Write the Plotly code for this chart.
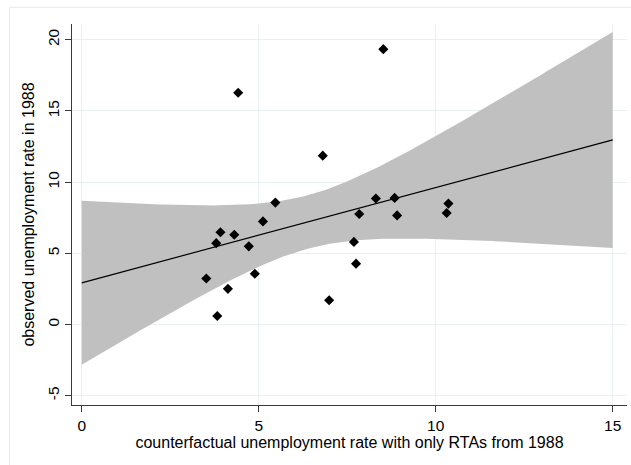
import numpy as np
import plotly.graph_objects as go

# counterfactual unemployment rate with only RTAs from 1988
x_cf = [8.52, 4.42, 6.81, 5.47, 8.31, 8.84, 10.36, 7.84, 8.91, 10.31, 5.12,
        3.92, 4.31, 3.80, 4.72, 7.69, 7.75, 3.52, 4.89, 4.13, 6.99, 3.83]
# observed unemployment rate in 1988
y_obs = [19.34, 16.28, 11.86, 8.56, 8.85, 8.89, 8.49, 7.76, 7.66, 7.83, 7.24,
         6.48, 6.30, 5.71, 5.49, 5.80, 4.27, 3.23, 3.56, 2.50, 1.70, 0.59]

x_ticks = [0, 5, 10, 15]
y_ticks = [-5, 0, 5, 10, 15, 20]
fit_range = [0, 15]

# linear fit with 95% CI of the prediction (as in Stata lfitci)
xa = np.array(x_cf)
ya = np.array(y_obs)
n = len(xa)
b, a = np.polyfit(xa, ya, 1)
resid = ya - (a + b * xa)
s = np.sqrt(np.sum(resid ** 2) / (n - 2))
sxx = np.sum((xa - xa.mean()) ** 2)
t_crit = 2.085963  # t(0.975, df=20)
xg = np.linspace(fit_range[0], fit_range[1], 200)
yhat = a + b * xg
se = s * np.sqrt(1.0 / n + (xg - xa.mean()) ** 2 / sxx)
lo = yhat - t_crit * se
hi = yhat + t_crit * se

fig = go.Figure()
fig.add_trace(go.Scatter(
    x=np.concatenate([xg, xg[::-1]]), y=np.concatenate([hi, lo[::-1]]),
    fill="toself", fillcolor="#c0c0c0", line=dict(width=0),
    mode="lines", hoverinfo="skip", showlegend=False))
fig.add_trace(go.Scatter(
    x=xg, y=yhat, mode="lines", line=dict(color="black", width=1.2),
    showlegend=False))
fig.add_trace(go.Scatter(
    x=x_cf, y=y_obs, mode="markers",
    marker=dict(symbol="diamond", size=7.8, color="black"),
    showlegend=False))

font = "Liberation Sans, Arial, sans-serif"
grid = "#e8f0f2"
axis_col = "#3a3a3a"

fig.update_layout(
    width=631, height=465,
    margin=dict(l=72, r=4, t=24, b=60),
    paper_bgcolor="white", plot_bgcolor="white",
    font=dict(family=font, color="black"),
    shapes=[dict(type="rect", xref="paper", yref="paper",
                 x0=(9.5 - 72) / 555, y0=1 + (24 - 7.3) / 381,
                 x1=1.2, y1=-0.3,
                 line=dict(color="#e3ecef", width=1), layer="below")],
)
fig.update_xaxes(
    automargin=False,
    range=[-0.274, 15.404], tickvals=x_ticks, ticktext=[str(v) for v in x_ticks],
    showgrid=True, gridcolor=grid, gridwidth=1, zeroline=False,
    showline=True, linecolor=axis_col, linewidth=1,
    ticks="outside", ticklen=6, tickcolor=axis_col, tickwidth=1,
    tickfont=dict(size=15.5, family=font, color="black"),
    title=dict(text="counterfactual unemployment rate with only RTAs from 1988",
               font=dict(size=16, family=font, color="black"), standoff=4),
)
fig.update_yaxes(
    automargin=False,
    range=[-5.66, 21.11], tickvals=y_ticks, ticktext=[str(v) for v in y_ticks],
    showgrid=True, gridcolor=grid, gridwidth=1, zeroline=False,
    showline=True, linecolor=axis_col, linewidth=1,
    ticks="outside", ticklen=6, tickcolor=axis_col, tickwidth=1,
    tickangle=-90,
    tickfont=dict(size=15.5, family=font, color="black"),
    title=dict(text="observed unemployment rate in 1988",
               font=dict(size=16, family=font, color="black"), standoff=6),
)

fig.write_html("out.html",
               config={"displayModeBar": False},
               post_script="document.body.style.margin='0';document.body.style.overflow='hidden';")
